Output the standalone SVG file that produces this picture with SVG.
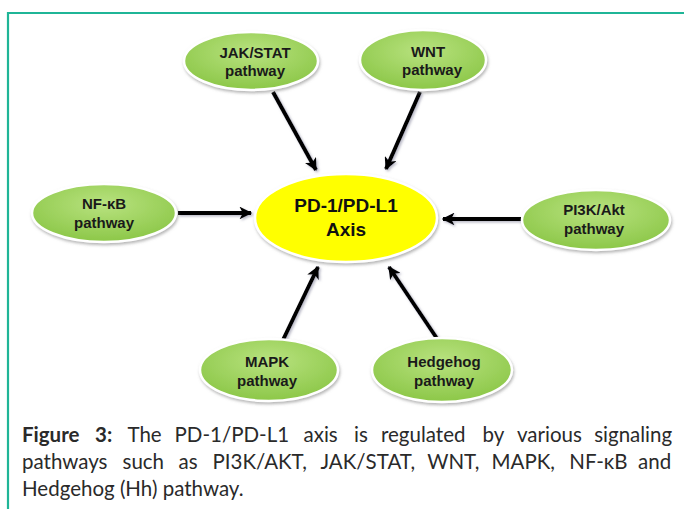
<svg xmlns="http://www.w3.org/2000/svg" width="684" height="509" viewBox="0 0 684 509">
<defs>
<radialGradient id="gGreen" cx="50%" cy="35%" r="65%">
<stop offset="0" stop-color="#b8e27f"/>
<stop offset="1" stop-color="#8cc748"/>
</radialGradient>
<filter id="sh" x="-20%" y="-20%" width="140%" height="150%">
<feDropShadow dx="1" dy="2" stdDeviation="1.5" flood-color="#7a7a7a" flood-opacity="0.55"/>
</filter>
<filter id="ash" filterUnits="userSpaceOnUse" x="0" y="0" width="684" height="509">
<feDropShadow dx="1.5" dy="1.5" stdDeviation="1.2" flood-color="#8a8aa0" flood-opacity="0.6"/>
</filter>
<marker id="ah" viewBox="0 0 10 10" refX="9" refY="5" markerWidth="3.2" markerHeight="3.2" orient="auto" markerUnits="strokeWidth">
<path d="M0,0 L10,5 L0,10 L2.5,5 Z" fill="#000"/>
</marker>
</defs>
<style>
.node ellipse{fill:url(#gGreen);stroke:#ffffff;stroke-width:2.5;filter:url(#sh)}
.center ellipse{fill:#ffff00;stroke:#ffffff;stroke-width:2.5;filter:url(#sh)}
.lbl{font-family:"Liberation Sans",Arial,sans-serif;font-weight:bold;font-size:15px;fill:#1a1a1a;text-anchor:middle}
.clbl{font-family:"Liberation Sans",Arial,sans-serif;font-weight:bold;font-size:19px;fill:#111;text-anchor:middle}
.conn line{stroke:#000;stroke-width:4;marker-end:url(#ah)}
.cap{font-family:Lato,"Liberation Sans",sans-serif;font-size:20.5px;fill:#2a2a2a}
.border{stroke:#1fb597;stroke-width:2.2;fill:none}
</style>
<rect width="684" height="509" fill="#ffffff"/>
<path class="border" d="M8,509 L8,13 L684,13"/>

<g id="connectors" class="conn" filter="url(#ash)">
<line x1="273" y1="92" x2="316" y2="170"/>
<line x1="420" y1="92" x2="386" y2="169"/>
<line x1="178" y1="213" x2="251" y2="213"/>
<line x1="521" y1="219" x2="443" y2="219"/>
<line x1="283" y1="340" x2="318" y2="267"/>
<line x1="438" y1="340" x2="389" y2="267"/>
</g>

<g id="node-center" class="center">
<ellipse cx="346" cy="218" rx="91" ry="44"/>
<text class="clbl" x="346" y="212">PD-1/PD-L1</text>
<text class="clbl" x="346" y="236">Axis</text>
</g>
<g id="node-jakstat" class="node">
<ellipse cx="251" cy="61" rx="67" ry="29"/>
<text class="lbl" x="255" y="58">JAK/STAT</text>
<text class="lbl" x="255" y="76">pathway</text>
</g>
<g id="node-wnt" class="node">
<ellipse cx="423" cy="60" rx="63" ry="30"/>
<text class="lbl" x="428" y="57">WNT</text>
<text class="lbl" x="432" y="75">pathway</text>
</g>
<g id="node-nfkb" class="node">
<ellipse cx="104" cy="213" rx="72" ry="29"/>
<text class="lbl" x="104" y="209">NF-κB</text>
<text class="lbl" x="104" y="228">pathway</text>
</g>
<g id="node-pi3k" class="node">
<ellipse cx="596" cy="220" rx="74" ry="30"/>
<text class="lbl" x="594" y="215">PI3K/Akt</text>
<text class="lbl" x="594" y="234">pathway</text>
</g>
<g id="node-mapk" class="node">
<ellipse cx="269" cy="370" rx="69" ry="31"/>
<text class="lbl" x="267" y="367">MAPK</text>
<text class="lbl" x="267" y="386">pathway</text>
</g>
<g id="node-hedgehog" class="node">
<ellipse cx="442" cy="370" rx="70" ry="32"/>
<text class="lbl" x="444" y="367">Hedgehog</text>
<text class="lbl" x="444" y="386">pathway</text>
</g>

<g id="caption" class="cap">
<text y="442"><tspan x="22" font-weight="bold">Figure</tspan><tspan x="95" font-weight="bold">3:</tspan><tspan x="127.5">The</tspan><tspan x="174.5">PD-1/PD-L1</tspan><tspan x="303.5">axis</tspan><tspan x="354">is</tspan><tspan x="381">regulated</tspan><tspan x="482.5">by</tspan><tspan x="517">various</tspan><tspan x="594.2">signaling</tspan></text>
<text y="469"><tspan x="22">pathways</tspan><tspan x="122.5">such</tspan><tspan x="178.5">as</tspan><tspan x="212.5">PI3K/AKT,</tspan><tspan x="320.4">JAK/STAT,</tspan><tspan x="427.2">WNT,</tspan><tspan x="491.5">MAPK,</tspan><tspan x="569.3">NF-κB</tspan><tspan x="638">and</tspan></text>
<text x="22" y="496">Hedgehog (Hh) pathway.</text>
</g>
</svg>
